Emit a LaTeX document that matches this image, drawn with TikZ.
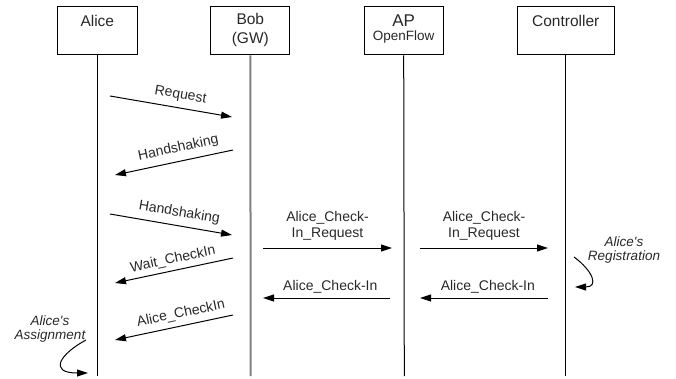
\documentclass[tikz,border=0pt]{standalone}
\usepackage{fontspec}
\setmainfont{Liberation Sans}[Ligatures=TeXOff]
\usetikzlibrary{arrows.meta}
\definecolor{txtgray}{HTML}{282828}
\definecolor{lifegray}{HTML}{7F7F7F}
\begin{document}
\begin{tikzpicture}[x=1pt,y=-1pt,
  box/.style={draw=black, line width=1pt, minimum height=48pt, inner sep=0pt},
  boxtxt/.style={text=txtgray, font=\fontsize{15.5}{18.5}\selectfont, align=center, inner sep=0pt},
  msg/.style={text=txtgray, font=\fontsize{14}{16.5}\selectfont, align=center, inner sep=0pt},
  note/.style={text=txtgray, font=\fontsize{13.5}{14}\selectfont\itshape, align=center, inner sep=0pt},
  life/.style={line width=1pt, draw=black},
  arr/.style={line width=1pt, draw=black, -{Triangle[length=11pt,width=7pt]}}
]
\useasboundingbox (0,0) rectangle (676,379);

% participant boxes
\node[box, minimum width=80pt] (alice) at (97.3,31) {};
\node[box, minimum width=79.3pt] (bob) at (250.3,31) {};
\node[box, minimum width=79.3pt] (ap) at (403.7,31) {};
\node[box, minimum width=96.7pt] (ctrl) at (565.7,31) {};

\node[boxtxt] (alicet) at (97.3,20.7) {Alice};
\node[boxtxt] (bobt) at (250.3,30) {Bob\\(GW)};
\node[boxtxt, font=\fontsize{17}{18}\selectfont] (apt) at (403.7,20.7) {AP};
\node[boxtxt, font=\fontsize{13.5}{15}\selectfont] (apt2) at (403.7,37.3) {OpenFlow};
\node[boxtxt] (ctrlt) at (565.7,20.7) {Controller};

% lifeline ends
\coordinate (aend) at (97.3,376);
\coordinate (bend) at (250.7,376);
\coordinate (pend) at (404.3,376);
\coordinate (cend) at (565.7,376);

\draw[life] (alice.south) -- (aend);
\draw[line width=2pt, draw=lifegray] (bob.south) -- (bend);
\draw[life] (ap.south) -- (pend);
\draw[life] (ctrl.south) -- (cend);

% message end points
\coordinate (m1s) at (110,96);  \coordinate (m1e) at (232,117);
\coordinate (m2s) at (233,150); \coordinate (m2e) at (115,175);
\coordinate (m3s) at (110,214); \coordinate (m3e) at (232,235);
\coordinate (m4s) at (233,258); \coordinate (m4e) at (115,283);
\coordinate (m5s) at (233,315); \coordinate (m5e) at (115,340);
\coordinate (m6s) at (263,248); \coordinate (m6e) at (392,248);
\coordinate (m7s) at (420,248); \coordinate (m7e) at (548,248);
\coordinate (m8s) at (390,298); \coordinate (m8e) at (263,298);
\coordinate (m9s) at (548,298); \coordinate (m9e) at (420,298);

\draw[arr] (m1s) -- node[msg, sloped, above=6pt, pos=0.56] {Request} (m1e);
\draw[arr] (m2s) -- node[msg, sloped, above=6pt, pos=0.44] {Handshaking} (m2e);
\draw[arr] (m3s) -- node[msg, sloped, above=6pt, pos=0.55] {Handshaking} (m3e);
\draw[arr] (m4s) -- node[msg, sloped, above=4pt, pos=0.49] {Wait\_CheckIn} (m4e);
\draw[arr] (m5s) -- node[msg, sloped, above=5pt, pos=0.42] {Alice\_CheckIn} (m5e);
\draw[arr] (m6s) -- node[msg, above=7pt, midway] {Alice\_Check-\\In\_Request} (m6e);
\draw[arr] (m7s) -- node[msg, above=7pt, midway] {Alice\_Check-\\In\_Request} (m7e);
\draw[arr] (m8s) -- node[msg, above=4pt, pos=0.47] {Alice\_Check-In} (m8e);
\draw[arr] (m9s) -- node[msg, above=4pt, pos=0.47] {Alice\_Check-In} (m9e);

% self notes
\node[note] (reg) at (624,250) {Alice's\\Registration};
\node[note] (asg) at (50,329) {Alice's\\Assignment};
\coordinate (r1) at (574,257); \coordinate (r2) at (575,287);
\coordinate (s1) at (86,340);  \coordinate (s2) at (88,373);
\draw[arr] (r1) .. controls (593,271) and (599,287) .. (r2);
\draw[arr] (s1) .. controls (60,354) and (48,373) .. (s2);
\end{tikzpicture}
\end{document}
